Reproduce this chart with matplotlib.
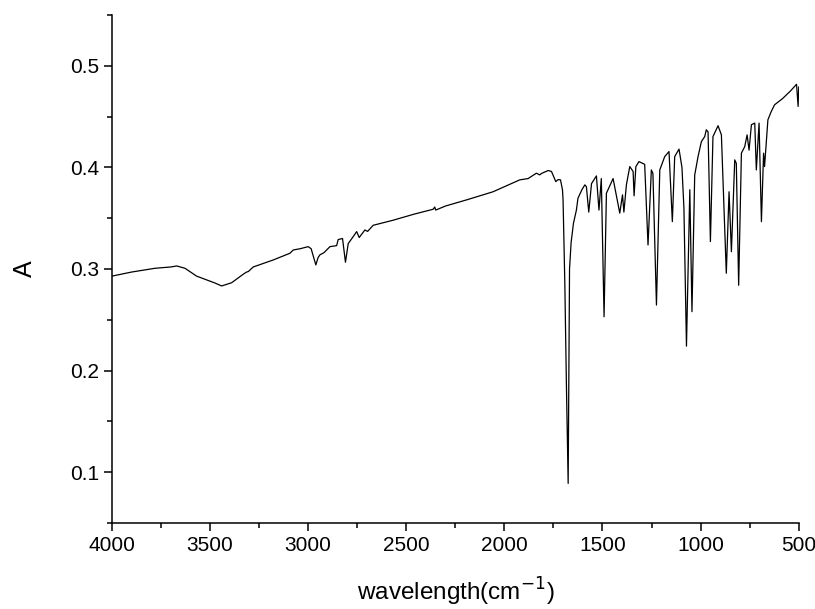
import matplotlib
matplotlib.use('Agg')
import matplotlib.pyplot as plt
from matplotlib.ticker import MultipleLocator

plt.rcParams['font.family'] = ['Liberation Sans', 'DejaVu Sans']

# FTIR spectrum, points
wavenumber = [4000, 3900, 3781, 3700, 3670, 3628, 3569, 3475, 3441, 3390, 3330, 3314, 3305,
              3280, 3178, 3093, 3076, 3040, 3000, 2985, 2961, 2950, 2940, 2920, 2889,
              2855, 2847, 2825, 2810, 2796, 2770, 2753, 2740, 2711, 2697, 2669, 2567,
              2460, 2363, 2355, 2350, 2300, 2193, 2058, 1922, 1879, 1837, 1820, 1811,
              1777, 1760, 1738, 1726, 1714, 1704, 1701, 1692, 1684, 1675, 1668, 1660,
              1648, 1633, 1625, 1605, 1590, 1582, 1570, 1556, 1531, 1518, 1506, 1492,
              1480, 1446, 1412, 1398, 1391, 1378, 1361, 1344, 1339, 1330, 1314, 1285,
              1268, 1251, 1243, 1225, 1208, 1183, 1161, 1144, 1132, 1110, 1095, 1085,
              1072, 1055, 1044, 1030, 1013, 996, 979, 971, 962, 950, 937, 911, 894, 869,
              855, 843, 826, 818, 806, 792, 775, 763, 753, 741, 724, 716, 702, 690, 679,
              674, 657, 640, 623, 583, 543, 511, 503, 500]
absorbance = [0.293, 0.297, 0.3007, 0.302, 0.303, 0.3007, 0.293, 0.2862, 0.2833, 0.2865,
              0.295, 0.297, 0.2975, 0.302, 0.3089, 0.3155, 0.3187, 0.320, 0.322, 0.320,
              0.304, 0.311, 0.314, 0.316, 0.322, 0.323, 0.329, 0.330, 0.3066, 0.325,
              0.332, 0.3368, 0.331, 0.3384, 0.337, 0.343, 0.348, 0.354, 0.3588, 0.361,
              0.358, 0.362, 0.368, 0.376, 0.3877, 0.389, 0.3943, 0.3926, 0.394, 0.3969,
              0.396, 0.386, 0.388, 0.3877, 0.378, 0.368, 0.286, 0.187, 0.089, 0.300,
              0.326, 0.345, 0.358, 0.3696, 0.378, 0.3828, 0.381, 0.356, 0.384, 0.3916,
              0.358, 0.389, 0.253, 0.3746, 0.389, 0.355, 0.373, 0.356, 0.383, 0.4008,
              0.396, 0.372, 0.4008, 0.4057, 0.403, 0.3236, 0.3975, 0.394, 0.2645, 0.3975,
              0.4106, 0.4156, 0.3466, 0.4106, 0.418, 0.400, 0.360, 0.2241, 0.378, 0.258,
              0.3925, 0.4106, 0.4254, 0.4303, 0.437, 0.435, 0.327, 0.4303, 0.441, 0.432,
              0.2958, 0.376, 0.317, 0.4074, 0.404, 0.284, 0.414, 0.4205, 0.432, 0.417,
              0.442, 0.4436, 0.3975, 0.4436, 0.3466, 0.414, 0.4008, 0.4468, 0.455, 0.4616,
              0.4676, 0.475, 0.4818, 0.460, 0.479]

fig = plt.figure(figsize=(8.15, 6.09), dpi=100)
ax = fig.add_axes([0.1374, 0.1412, 0.8426, 0.8342])
ax.plot(wavenumber, absorbance, color='black', linewidth=0.9)

ax.set_xlim(4000, 500)
ax.set_ylim(0.05, 0.55)
ax.xaxis.set_major_locator(MultipleLocator(500))
ax.xaxis.set_minor_locator(MultipleLocator(250))
ax.yaxis.set_major_locator(MultipleLocator(0.1))
ax.yaxis.set_minor_locator(MultipleLocator(0.05))

ax.spines['top'].set_visible(False)
ax.spines['right'].set_visible(False)
ax.spines['left'].set_linewidth(1.1)
ax.spines['bottom'].set_linewidth(1.1)
ax.tick_params(which='major', direction='out', length=6, width=1.1, labelsize=15, pad=3)
ax.tick_params(which='minor', direction='out', length=3.5, width=1.1)

ax.set_xlabel('wavelength(cm$^{-1}$)', fontsize=17.5, labelpad=15)
ax.set_ylabel('A', fontsize=18, labelpad=24)

fig.savefig('out.png', dpi=100)
